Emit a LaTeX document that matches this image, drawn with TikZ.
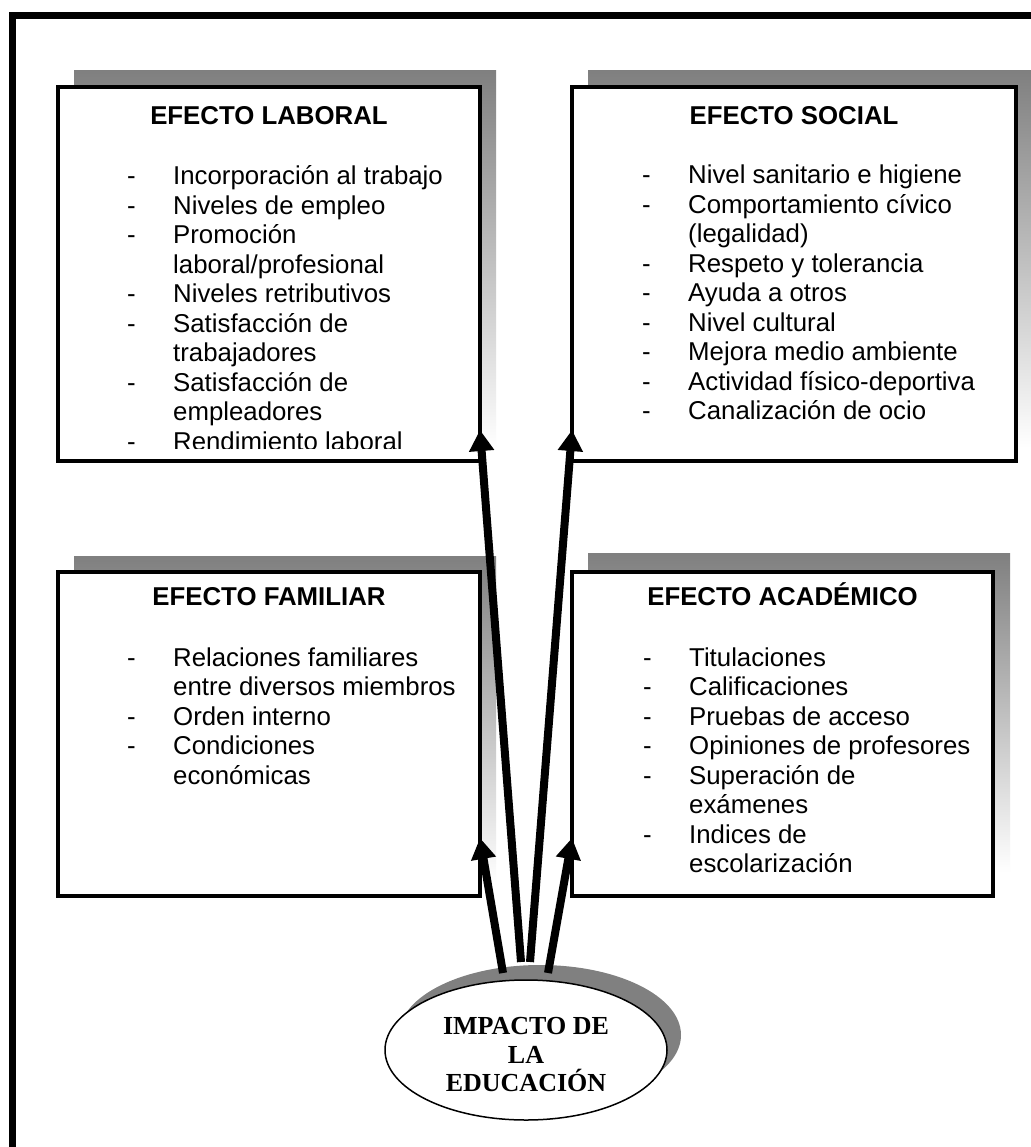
\documentclass[tikz,border=0pt]{standalone}
\usepackage{fontspec}
\setmainfont{Liberation Sans}
\newfontfamily\impfont{Liberation Serif}
\usetikzlibrary{shapes.geometric,arrows.meta,calc}
\definecolor{shade}{HTML}{808080}
% two-column list: dash, then the item text
\newcommand\efflist[1]{\begin{tabular}[t]{@{}p{46pt}@{}l@{}}#1\end{tabular}}
\tikzset{
  effbox/.style={draw, line width=4pt, fill=white, inner sep=0pt, outer sep=0pt},
  efftitle/.style={anchor=base, inner sep=0pt, font=\bfseries\fontsize{25.8}{29.5}\selectfont},
  efftext/.style={anchor=base west, inner sep=0pt, font=\fontsize{25.8}{29.5}\selectfont},
  impactarrow/.style={-{Triangle[length=21pt,width=24pt]}, line width=8pt},
}
\begin{document}
\begin{tikzpicture}[x=1pt, y=-1pt]
\useasboundingbox (0,0) rectangle (1030,1147);
\fill[white] (0,0) rectangle (1030,1147);

% outer frame
\draw[line width=7pt] (12,1160) -- (12,16) -- (1045,16);

% box shadows
\fill[shade] (74,71) rectangle (496,448);
\fill[shade] (588,71) rectangle (1034,448);
\fill[shade] (74,556) rectangle (496,883);
\fill[shade] (588,553) rectangle (1010,873);

% boxes
\node[effbox, minimum width=422pt, minimum height=374pt] (lab) at (269,274) {};
\node[effbox, minimum width=444pt, minimum height=374pt] (soc) at (794,274) {};
\node[effbox, minimum width=422pt, minimum height=324pt] (fam) at (269,734) {};
\node[effbox, minimum width=421pt, minimum height=324pt] (aca) at (782.5,734) {};

% titles
\node[efftitle] (labt) at (269,125) {EFECTO LABORAL};
\node[efftitle] (soct) at (794,125) {EFECTO SOCIAL};
\node[efftitle] (famt) at (269,605) {EFECTO FAMILIAR};
\node[efftitle] (acat) at (782.5,605) {EFECTO ACADÉMICO};

% item lists
\begin{scope}
\clip ($(lab.north west)+(2,2)$) rectangle ($(lab.south east)+(-2,-13)$);
\node[efftext] (labl) at (127,185) {\efflist{
- & Incorporación al trabajo\\
- & Niveles de empleo\\
- & Promoción\\
  & laboral/profesional\\
- & Niveles retributivos\\
- & Satisfacción de\\
  & trabajadores\\
- & Satisfacción de\\
  & empleadores\\
- & Rendimiento laboral}};
\end{scope}

\node[efftext] (socl) at (642,184) {\efflist{
- & Nivel sanitario e higiene\\
- & Comportamiento cívico\\
  & (legalidad)\\
- & Respeto y tolerancia\\
- & Ayuda a otros\\
- & Nivel cultural\\
- & Mejora medio ambiente\\
- & Actividad físico-deportiva\\
- & Canalización de ocio}};

\node[efftext] (faml) at (127,666) {\efflist{
- & Relaciones familiares\\
  & entre diversos miembros\\
- & Orden interno\\
- & Condiciones\\
  & económicas}};

\node[efftext] (acal) at (643,666) {\efflist{
- & Titulaciones\\
- & Calificaciones\\
- & Pruebas de acceso\\
- & Opiniones de profesores\\
- & Superación de\\
  & exámenes\\
- & Indices de\\
  & escolarización}};

% central ellipse with its shadow
\node[ellipse, fill=shade, inner sep=0pt, outer sep=0pt,
      minimum width=282pt, minimum height=140pt] (impshadow) at (540,1035) {};
\node[ellipse, draw, line width=1.5pt, fill=white, inner sep=0pt, outer sep=0pt,
      minimum width=282pt, minimum height=140pt] (imp) at (526,1050) {};
\node[align=center, inner sep=0pt, font=\impfont\bfseries\fontsize{26}{28.5}\selectfont]
  (impt) at ($(imp.center)+(0,5)$) {IMPACTO DE\\LA\\EDUCACIÓN};

% arrow ends
\coordinate (labin) at ($(lab.south east)+(0,-31)$);
\coordinate (socin) at ($(soc.south west)+(0,-31)$);
\coordinate (famin) at ($(fam.south east)+(0,-58)$);
\coordinate (acain) at ($(aca.south west)+(0,-58)$);
\coordinate (labout) at ($(imp.north)+(-5,-18)$);
\coordinate (socout) at ($(imp.north)+(4,-18)$);
\coordinate (famout) at ($(imp.north)+(-23,-7)$);
\coordinate (acaout) at ($(imp.north)+(22,-7)$);

% arrows
\draw[impactarrow] (labout) -- (labin);
\draw[impactarrow] (socout) -- (socin);
\draw[impactarrow] (famout) -- (famin);
\draw[impactarrow] (acaout) -- (acain);
\end{tikzpicture}
\end{document}
